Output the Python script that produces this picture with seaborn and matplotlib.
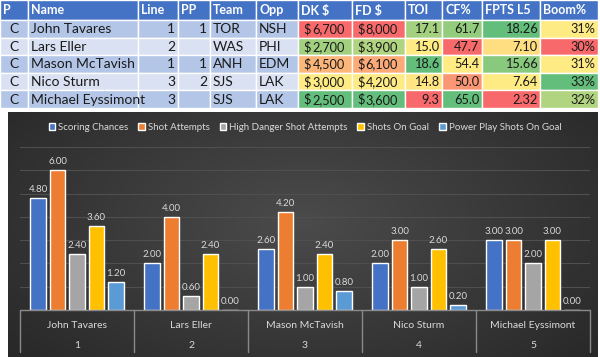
import numpy as np
import pandas as pd
import seaborn as sns
import matplotlib.pyplot as plt
import matplotlib.transforms as mtransforms
from matplotlib.patches import Rectangle
from matplotlib.colors import to_rgb

sns.set_style("white")
plt.rcParams['font.family'] = ['Lato', 'DejaVu Sans']

# table data
headers = ["P", "Name", "Line", "PP", "Team", "Opp", "DK $", "FD $", "TOI", "CF%", "FPTS L5", "Boom%"]
pos = ["C", "C", "C", "C", "C"]
players = ["John Tavares", "Lars Eller", "Mason McTavish", "Nico Sturm", "Michael Eyssimont"]
line = [1, 2, 1, 3, 3]
pp = [1, None, 1, 2, None]
team = ["TOR", "WAS", "ANH", "SJS", "SJS"]
opp = ["NSH", "PHI", "EDM", "LAK", "LAK"]
dk = [6700, 2700, 4500, 3000, 2500]
fd = [8000, 3900, 6100, 4200, 3600]
toi = [17.1, 15.0, 18.6, 14.8, 9.3]
cf = [61.7, 47.7, 54.4, 50.0, 65.0]
fpts = [18.26, 7.10, 15.66, 7.64, 2.32]
boom = [31, 30, 31, 33, 32]

# chart data
metrics = ["Scoring Chances", "Shot Attempts", "High Danger Shot Attempts",
           "Shots On Goal", "Power Play Shots On Goal"]
scoring = [4.8, 2.0, 2.6, 2.0, 3.0]
attempts = [6.0, 4.0, 4.2, 3.0, 3.0]
high_danger = [2.4, 0.6, 1.0, 1.0, 2.0]
sog = [3.6, 2.4, 2.4, 2.6, 3.0]
pp_sog = [1.2, 0.0, 0.8, 0.2, 0.0]
palette = ["#4472C4", "#ED7D31", "#A5A5A5", "#FFC000", "#5B9BD5"]

RED, YEL, GRN = np.array(to_rgb("#F8696B")), np.array(to_rgb("#FFEB84")), np.array(to_rgb("#63BE7B"))


def scale_colors(vals, low_good=False):
    # excel style 3 colour scale, midpoint = median
    lo, mid, hi = min(vals), float(np.median(vals)), max(vals)
    c_lo, c_hi = (GRN, RED) if low_good else (RED, GRN)
    out = []
    for v in vals:
        if v <= mid:
            t = 0 if mid == lo else (v - lo) / (mid - lo)
            out.append(c_lo + (YEL - c_lo) * t)
        else:
            t = (v - mid) / (hi - mid)
            out.append(YEL + (c_hi - YEL) * t)
    return out


fig = plt.figure(figsize=(6, 3.57), dpi=100)
W, H = 600, 357

# ---- table ----
tab = fig.add_axes([0, 0, 1, 1])
tab.set_xlim(0, W)
tab.set_ylim(H, 0)
tab.axis("off")

edges = [0, 28, 138, 178, 210, 256, 298, 352, 405, 442, 482, 540, 598]
row_y = [0, 20] + [20 + 17.6 * (i + 1) for i in range(5)]
fs = 10
fs_num = 9.2
ink = "#1a1a1a"

for j, h in enumerate(headers):
    tab.add_patch(Rectangle((edges[j], 0), edges[j + 1] - edges[j], 20,
                            facecolor="#4472C4", edgecolor="white", lw=1))
    tab.text(edges[j] + 3, 10.5, h, color="white", fontweight="bold",
             fontsize=9, va="center", ha="left")

col_colors = [scale_colors(dk, True), scale_colors(fd, True), scale_colors(toi),
              scale_colors(cf), scale_colors(fpts), scale_colors(boom)]

for i in range(5):
    y0, y1 = row_y[i + 1], row_y[i + 2]
    yc = (y0 + y1) / 2 + 0.5
    band = "#B4C6E7" if i % 2 == 0 else "#D9E1F2"
    cells = [(pos[i], "center"), (players[i], "left"), (str(line[i]), "right"),
             ("" if pp[i] is None else str(pp[i]), "right"), (team[i], "left"), (opp[i], "left")]
    for j, (txt, ha) in enumerate(cells):
        x0, x1 = edges[j], edges[j + 1]
        tab.add_patch(Rectangle((x0, y0), x1 - x0, y1 - y0, facecolor=band,
                                edgecolor="white", lw=1))
        xt = {"left": x0 + 3, "right": x1 - 3, "center": (x0 + x1) / 2}[ha]
        tab.text(xt, yc, txt, fontsize=fs, ha=ha, va="center", color=ink)
    vals = [f"{dk[i]:,}", f"{fd[i]:,}", f"{toi[i]:.1f}", f"{cf[i]:.1f}",
            f"{fpts[i]:.2f}", f"{boom[i]}%"]
    for k, txt in enumerate(vals):
        j = 6 + k
        x0, x1 = edges[j], edges[j + 1]
        tab.add_patch(Rectangle((x0, y0), x1 - x0, y1 - y0, facecolor=col_colors[k][i],
                                edgecolor="white", lw=1))
        if k < 2:
            tab.text(x0 + 5, yc, "$", fontsize=fs_num, ha="left", va="center", color=ink)
            tab.text(x1 - 7, yc, txt, fontsize=fs_num, ha="right", va="center", color=ink)
        else:
            tab.text(x1 - 2.5, yc, txt, fontsize=fs_num, ha="right", va="center", color=ink)

# ---- chart background ----
bg = fig.add_axes([8 / W, 0, 590 / W, (H - 112) / H])
yy, xx = np.mgrid[0:1:200j, 0:1:300j]
r = np.sqrt(((xx - 0.5) / 0.7) ** 2 + ((yy - 0.45) / 0.9) ** 2)
r = np.clip(r, 0, 1)
c_in, c_out = np.array(to_rgb("#4b4b4b")), np.array(to_rgb("#262626"))
img = c_in[None, None, :] + (c_out - c_in)[None, None, :] * r[:, :, None]
bg.imshow(img, aspect="auto", extent=[0, 1, 0, 1])
bg.axis("off")

# ---- bar chart ----
df = pd.DataFrame({
    "player": players * 5,
    "metric": np.repeat(metrics, 5),
    "value": scoring + attempts + high_danger + sog + pp_sog,
})

ax = fig.add_axes([20 / W, 1 - 310 / H, 570 / W, (310 - 147) / H])
ax.patch.set_alpha(0)
sns.barplot(data=df, x="player", y="value", hue="metric", palette=palette,
            width=0.85, gap=0.2, ax=ax, saturation=1)
ax.set_xlim(-0.5, 4.5)
ax.set_ylim(0, 7)
ax.set_yticks(range(1, 8))
ax.yaxis.grid(True, color="#4f4f4f", lw=0.8)
ax.set_axisbelow(True)
ax.tick_params(left=False, bottom=False, labelleft=False, labelbottom=False)
ax.set_xlabel("")
ax.set_ylabel("")
for s in ax.spines.values():
    s.set_visible(False)

txt_c = "#D9D9D9"
for cont in ax.containers:
    ax.bar_label(cont, fmt="%.2f", padding=3, color=txt_c, fontsize=7)

# multi level category axis
ax.axhline(0, color="#8a8a8a", lw=1, clip_on=False)
tr = mtransforms.blended_transform_factory(ax.transData, ax.transAxes)
ax_h = 310 - 147
for x in np.arange(-0.5, 5, 1):
    ax.plot([x, x], [0, -(352 - 310) / ax_h], transform=tr, color="#8a8a8a",
            lw=1, clip_on=False)
for i, p in enumerate(players):
    ax.text(i, -(325 - 310) / ax_h, p, transform=tr, ha="center", va="center",
            color=txt_c, fontsize=7.5)
    ax.text(i, -(346 - 310) / ax_h, str(i + 1), transform=tr, ha="center",
            va="center", color=txt_c, fontsize=7.5)

ax.legend(loc="center", bbox_to_anchor=(0.5, 1 + 20 / ax_h), ncol=5, frameon=False,
          fontsize=7, handlelength=0.7, handleheight=0.7, columnspacing=1.0,
          handletextpad=0.3, labelcolor=txt_c, title=None)

fig.savefig("out.png", dpi=100)
